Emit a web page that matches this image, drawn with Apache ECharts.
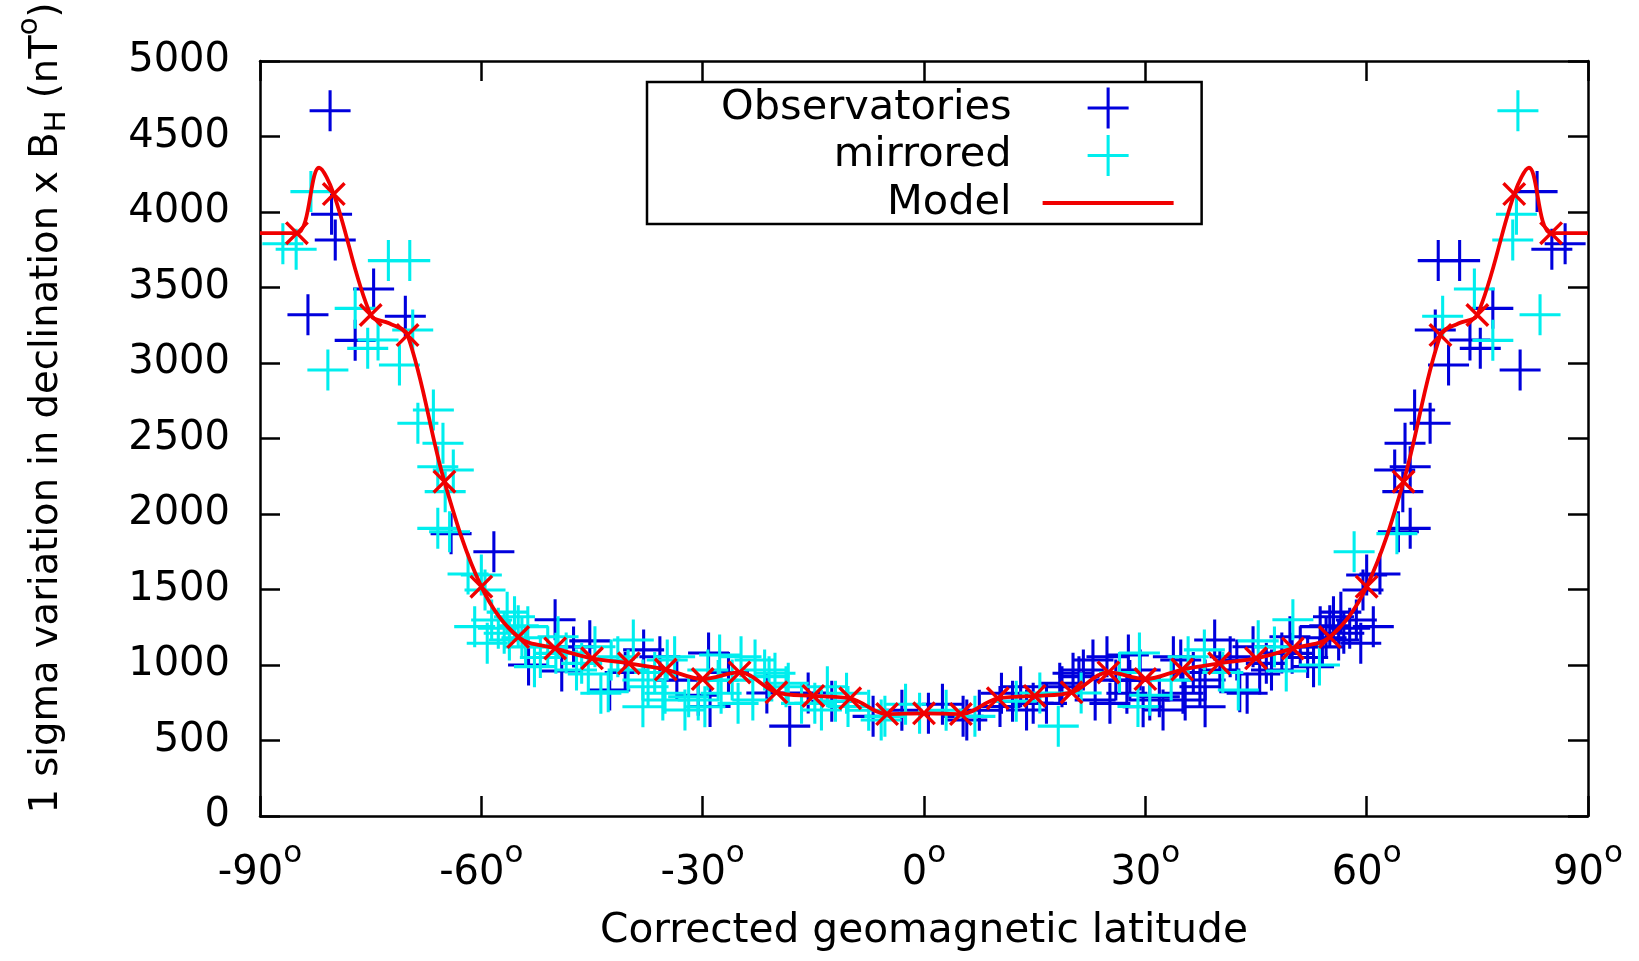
<!DOCTYPE html>
<html>
<head>
<meta charset="utf-8">
<script src="https://cdn.jsdelivr.net/npm/echarts@6/dist/echarts.min.js"></script>
<style>
  html, body { margin: 0; padding: 0; background: #fff; }
  #chart { width: 1639px; height: 961px; }
</style>
</head>
<body>
<div id="chart"></div>
<script>
// observatories: corrected geomagnetic latitude (deg) and 1-sigma value (nT deg)
var obsLat = [
  -83.5, -80.5, -80.3, -79.8, -77.1, -74.6, -70.3, -64.1, -58.3, -53.6,
  -50.0, -49.1, -47.5, -45.3, -42.6, -40.5, -38.0, -35.8, -33.5, -30.6,
  -29.2, -29.0, -26.5, -21.3, -18.2, -15.7, -12.5, -6.9, -3.0,
  0.6, 2.5, 5.3, 5.8, 7.5, 10.3, 10.5, 12.0, 13.1, 13.9,
  14.8, 16.6, 18.4, 18.7, 20.2, 21.0, 21.6, 22.9, 23.2, 24.8,
  25.2, 26.0, 27.5, 27.7, 27.9, 29.3, 29.7, 30.6, 31.9, 32.4,
  33.8, 34.8, 35.1, 35.4, 36.5, 37.4, 38.1, 38.1, 39.4, 40.1,
  41.5, 42.4, 42.8, 43.8, 44.6, 45.5, 46.4, 47.1, 48.5, 49.6,
  49.9, 51.0, 52.0, 52.8, 53.7, 54.0, 54.5, 55.0, 55.5, 56.2,
  56.5, 56.9, 57.7, 58.6, 59.2, 59.5, 60.0, 60.9, 61.8, 63.8,
  64.3, 64.9, 65.2, 65.9, 65.9, 66.5, 68.6, 69.3, 69.7, 71.1,
  72.6, 74.0, 75.4, 77.1, 80.8, 83.1, 85.1, 86.9
];
var obsVal = [
  3320, 4670, 3985, 3815, 3150, 3490, 3310, 1870, 1750, 1000,
  1300, 960, 1120, 1160, 835, 950, 1100, 1055, 900, 800,
  1080, 725, 950, 815, 595, 815, 760, 660, 700,
  680, 740, 660, 636, 700, 725, 813, 760, 856, 702,
  746, 746, 879, 856, 945, 923, 967, 1033, 768, 1055,
  746, 900, 813, 1066, 898, 967, 724, 768, 790, 702,
  1055, 1033, 813, 768, 950, 856, 724, 901, 1166, 967,
  1055, 1033, 823, 813, 1121, 940, 1011, 967, 1080, 1187,
  1077, 1121, 1050, 989, 1254, 1120, 1180, 1260, 1320, 1166,
  1350, 1210, 1243, 1298, 1144, 1497, 1596, 1254, 1603, 2291,
  1883, 2148, 2468, 2313, 1905, 2689, 2601, 3219, 3678, 2987,
  3678, 3152, 3097, 3362, 2954, 4135, 3753, 3790
];

// model values at the 5 degree markers
var markLat = [
  -85, -80, -75, -70, -65, -60, -55, -50, -45, -40, -35, -30, -25, -20, -15, -10, -5,
  0, 5, 10, 15, 20, 25, 30, 35, 40, 45, 50, 55, 60, 65, 70, 75, 80, 85
];
var markVal = [
  3860, 4119, 3318, 3185, 2214, 1519, 1185, 1110, 1044, 1011, 970, 907, 951, 819, 795, 779, 675,
  680, 675, 779, 795, 819, 951, 907, 970, 1011, 1044, 1110, 1185, 1519, 2214, 3185, 3318, 4119, 3860
];
// extra points (flat ends, peaks, shoulders)
var curveLat = [-90, -82, -72.5, 72.5, 82, 90];
var curveVal = [3860, 4293, 3263, 3263, 4293, 3860];

var xTicks = [-90, -60, -30, 0, 30, 60, 90];

var FONT = 'DejaVu Sans';
var plusPath = 'path://M-1,-0.075H1V0.075H-1Z M-0.075,-1H0.075V1H-0.075Z';
var crossPath = 'path://M-1,-0.8L-0.8,-1L1,0.8L0.8,1Z M0.8,-1L1,-0.8L-0.8,1L-1,0.8Z';
var linePath = 'path://M-1,-0.03H1V0.03H-1Z';

function pairs(xs, ys) {
  return xs.map(function(x, i) { return [x, ys[i]]; });
}

var obsData = pairs(obsLat, obsVal);
// the mirrored set is the observatory set flipped about the equator
var mirData = pairs(obsLat.map(function(x) { return -x; }), obsVal);
var markData = pairs(markLat, markVal);
var lineData = markData.concat(pairs(curveLat, curveVal)).sort(function(a, b) { return a[0] - b[0]; });

var chart = echarts.init(document.getElementById('chart'), null, { renderer: 'canvas' });

var border = { show: true, onZero: false, lineStyle: { color: '#000', width: 2.5 } };
var inTicks = { show: true, inside: true, length: 20, lineStyle: { color: '#000', width: 2.5 } };

var option = {
  animation: false,
  backgroundColor: '#fff',
  grid: { left: 260, right: 51, top: 61, bottom: 145, containLabel: false, outerBoundsMode: 'none' },
  legend: {
    data: [
      { name: 'Observatories', icon: plusPath },
      { name: 'mirrored', icon: plusPath },
      { name: 'Model', icon: linePath }
    ],
    orient: 'vertical',
    align: 'right',
    left: 647,
    top: 82,
    itemWidth: 131,
    itemHeight: 41,
    itemGap: 5.5,
    padding: [5, 28, 0, 74],
    borderColor: '#000',
    borderWidth: 2.5,
    borderRadius: 0,
    backgroundColor: '#fff',
    selectedMode: false,
    textStyle: { fontFamily: FONT, fontSize: 41.5, color: '#000', lineHeight: 41, padding: [0, 26, 0, 0] }
  },
  xAxis: [{
    type: 'value',
    min: -90, max: 90, interval: 30,
    axisLine: border,
    axisTick: inTicks,
    splitLine: { show: false },
    axisLabel: {
      margin: 35.5,
      color: '#000',
      formatter: function(v) { return xTicks.indexOf(v) >= 0 ? '{n|' + v + '}{s|o}' : ''; },
      rich: {
        n: { fontFamily: FONT, fontSize: 40, color: '#000', lineHeight: 44, verticalAlign: 'middle' },
        s: { fontFamily: FONT, fontSize: 31, color: '#000', lineHeight: 30, verticalAlign: 'middle', padding: [0, 0, 39, 0] }
      }
    },
    name: 'Corrected geomagnetic latitude',
    nameLocation: 'middle',
    nameGap: 95,
    nameMoveOverlap: false,
    nameTextStyle: { fontFamily: FONT, fontSize: 40.7, color: '#000' }
  }, {
    type: 'value',
    position: 'top',
    min: -90, max: 90, interval: 30,
    axisLine: border,
    axisTick: inTicks,
    axisLabel: { show: false },
    splitLine: { show: false }
  }],
  yAxis: [{
    type: 'value',
    min: 0, max: 5000, interval: 500,
    axisLine: border,
    axisTick: inTicks,
    splitLine: { show: false },
    axisLabel: {
      margin: 30, color: '#000', fontFamily: FONT, fontSize: 40,
      formatter: function(v) { return String(v); }
    },
    name: '{t|1 sigma variation in declination x B}{sub|H}{t| (nT}{sup|o}{t|)}',
    nameLocation: 'middle',
    nameRotate: 90,
    nameGap: 191,
    nameMoveOverlap: false,
    nameTextStyle: {
      padding: [0, 0, 0, 61],
      rich: {
        t: { fontFamily: FONT, fontSize: 38.5, color: '#000', lineHeight: 44, verticalAlign: 'middle' },
        sub: { fontFamily: FONT, fontSize: 29, color: '#000', lineHeight: 30, verticalAlign: 'middle', padding: [20, 0, 0, 0] },
        sup: { fontFamily: FONT, fontSize: 29, color: '#000', lineHeight: 30, verticalAlign: 'middle', padding: [0, 0, 36, 0] }
      }
    }
  }, {
    type: 'value',
    position: 'right',
    min: 0, max: 5000, interval: 500,
    axisLine: border,
    axisTick: inTicks,
    axisLabel: { show: false },
    splitLine: { show: false }
  }],
  series: [
    {
      name: 'Observatories',
      type: 'scatter',
      symbol: plusPath,
      symbolSize: 41,
      itemStyle: { color: '#0000dd', opacity: 1 },
      data: obsData
    },
    {
      name: 'mirrored',
      type: 'scatter',
      symbol: plusPath,
      symbolSize: 41,
      itemStyle: { color: '#00eeee', opacity: 1 },
      data: mirData
    },
    {
      name: 'Model',
      type: 'line',
      smooth: 0.35,
      symbol: 'none',
      lineStyle: { color: '#f00000', width: 3.8 },
      itemStyle: { color: '#f00000' },
      data: lineData
    },
    {
      name: 'model points',
      type: 'scatter',
      symbol: crossPath,
      symbolSize: 24,
      itemStyle: { color: '#f00000', opacity: 1 },
      data: markData
    }
  ]
};

chart.setOption(option);
window.addEventListener('resize', chart.resize);
</script>
</body>
</html>
